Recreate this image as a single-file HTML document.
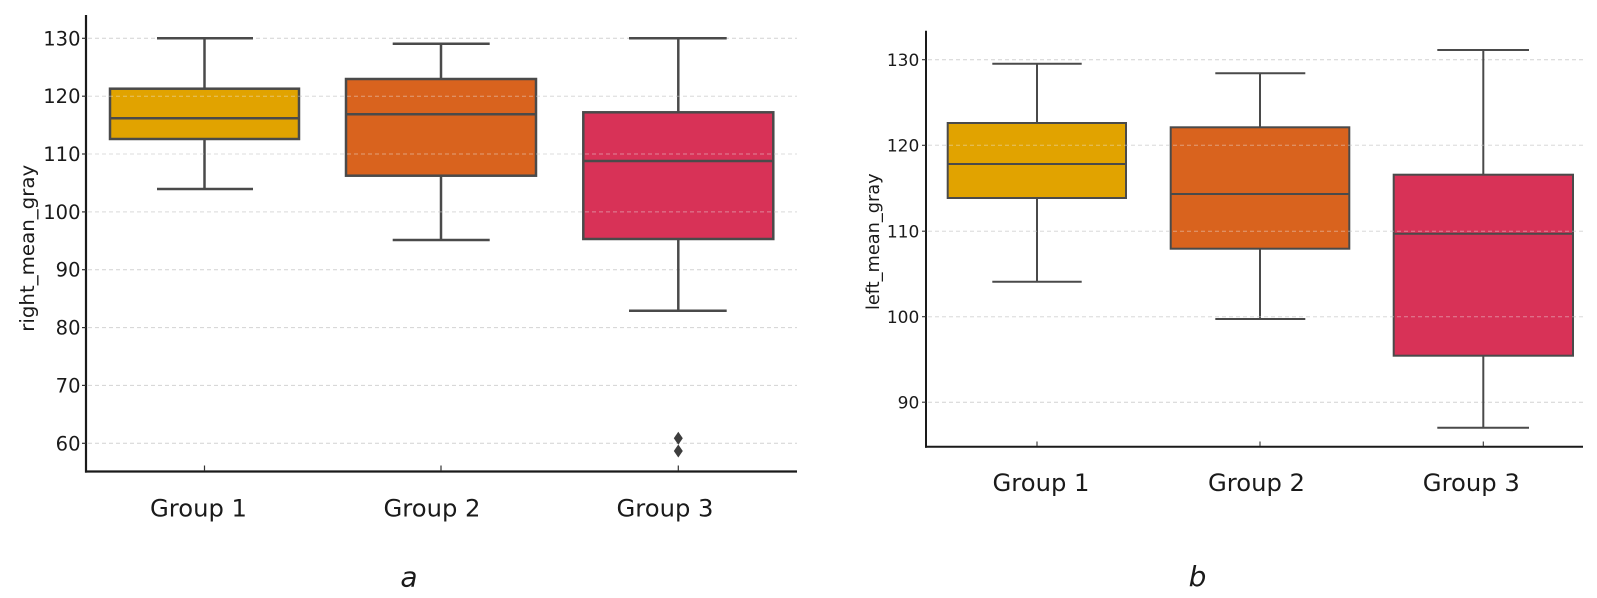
<!DOCTYPE html>
<html>
<head>
<meta charset="utf-8">
<style>
html,body{margin:0;padding:0;background:#fff;}
svg{display:block;}
text{font-family:"DejaVu Sans","Liberation Sans",sans-serif;fill:#1a1a1a;}
</style>
</head>
<body>
<svg width="1597" height="598" viewBox="0 0 1597 598" xmlns="http://www.w3.org/2000/svg">
<rect width="1597" height="598" fill="#fff"/>

<!-- ================= LEFT CHART (a) ================= -->
<g>
  <!-- gridlines under -->
  <g stroke="#d2d2d2" stroke-width="1" stroke-dasharray="4,3">
    <line x1="88" y1="38.3" x2="797" y2="38.3"/>
    <line x1="88" y1="96.2" x2="797" y2="96.2"/>
    <line x1="88" y1="154.0" x2="797" y2="154.0"/>
    <line x1="88" y1="211.9" x2="797" y2="211.9"/>
    <line x1="88" y1="269.7" x2="797" y2="269.7"/>
    <line x1="88" y1="327.6" x2="797" y2="327.6"/>
    <line x1="88" y1="385.4" x2="797" y2="385.4"/>
    <line x1="88" y1="443.3" x2="797" y2="443.3"/>
  </g>

  <!-- Box 1 -->
  <g stroke="#4a4a4a" stroke-width="2.5" fill="none">
    <line x1="204.5" y1="38.3" x2="204.5" y2="88.7"/>
    <line x1="204.5" y1="139" x2="204.5" y2="189"/>
    <line x1="157" y1="38.3" x2="253" y2="38.3"/>
    <line x1="157" y1="189" x2="253" y2="189"/>
  </g>
  <rect x="110" y="88.7" width="189" height="50.3" fill="#E1A300" stroke="#4a4a4a" stroke-width="2.5"/>
  <line x1="110" y1="118.3" x2="299" y2="118.3" stroke="#4a4a4a" stroke-width="2.5"/>

  <!-- Box 2 -->
  <g stroke="#4a4a4a" stroke-width="2.5" fill="none">
    <line x1="441" y1="43.7" x2="441" y2="79"/>
    <line x1="441" y1="175.7" x2="441" y2="240"/>
    <line x1="392.7" y1="43.7" x2="489.7" y2="43.7"/>
    <line x1="392.7" y1="240" x2="489.7" y2="240"/>
  </g>
  <rect x="346" y="79" width="190" height="96.7" fill="#D9631E" stroke="#4a4a4a" stroke-width="2.5"/>
  <line x1="346" y1="114.3" x2="536" y2="114.3" stroke="#4a4a4a" stroke-width="2.5"/>

  <!-- Box 3 -->
  <g stroke="#4a4a4a" stroke-width="2.5" fill="none">
    <line x1="678.3" y1="38.3" x2="678.3" y2="112.3"/>
    <line x1="678.3" y1="239" x2="678.3" y2="310.7"/>
    <line x1="629" y1="38.3" x2="726.7" y2="38.3"/>
    <line x1="629" y1="310.7" x2="726.7" y2="310.7"/>
  </g>
  <rect x="583.3" y="112.3" width="190" height="126.7" fill="#D83257" stroke="#4a4a4a" stroke-width="2.5"/>
  <line x1="583.3" y1="161" x2="773.3" y2="161" stroke="#4a4a4a" stroke-width="2.5"/>

  <!-- outliers -->
  <polygon points="678.3,431.8 682.8,438.3 678.3,444.8 673.8,438.3" fill="#3d3d3d"/>
  <polygon points="678.3,444.5 682.8,451 678.3,457.5 673.8,451" fill="#3d3d3d"/>

  <!-- gridlines over boxes (faint) -->
  <g stroke="#ececec" stroke-opacity="0.45" stroke-width="1" stroke-dasharray="4,3">
    <line x1="88" y1="96.2" x2="797" y2="96.2"/>
    <line x1="88" y1="154.0" x2="797" y2="154.0"/>
    <line x1="88" y1="211.9" x2="797" y2="211.9"/>
  </g>

  <!-- spines -->
  <line x1="86" y1="15" x2="86" y2="472.6" stroke="#1a1a1a" stroke-width="2.2"/>
  <line x1="85" y1="471.5" x2="797" y2="471.5" stroke="#1a1a1a" stroke-width="2.2"/>

  <!-- x ticks (inward) -->
  <g stroke="#333" stroke-width="1.2">
    <line x1="204.5" y1="465.5" x2="204.5" y2="471"/>
    <line x1="441" y1="465.5" x2="441" y2="471"/>
    <line x1="678.3" y1="465.5" x2="678.3" y2="471"/>
  </g>
  <!-- y ticks -->
  <g stroke="#333" stroke-width="1.2">
    <line x1="82" y1="38.3" x2="86" y2="38.3"/>
    <line x1="82" y1="96.2" x2="86" y2="96.2"/>
    <line x1="82" y1="154.0" x2="86" y2="154.0"/>
    <line x1="82" y1="211.9" x2="86" y2="211.9"/>
    <line x1="82" y1="269.7" x2="86" y2="269.7"/>
    <line x1="82" y1="327.6" x2="86" y2="327.6"/>
    <line x1="82" y1="385.4" x2="86" y2="385.4"/>
    <line x1="82" y1="443.3" x2="86" y2="443.3"/>
  </g>

  <!-- y tick labels -->
  <g font-size="19.5" text-anchor="end">
    <text x="80.5" y="45.3">130</text>
    <text x="80.5" y="103.2">120</text>
    <text x="80.5" y="161.0">110</text>
    <text x="80.5" y="218.9">100</text>
    <text x="80.5" y="276.7">90</text>
    <text x="80.5" y="334.6">80</text>
    <text x="80.5" y="392.4">70</text>
    <text x="80.5" y="450.3">60</text>
  </g>

  <!-- x labels -->
  <g font-size="24" text-anchor="middle">
    <text x="198.5" y="516.5" textLength="97" lengthAdjust="spacingAndGlyphs">Group 1</text>
    <text x="432" y="516.5" textLength="97" lengthAdjust="spacingAndGlyphs">Group 2</text>
    <text x="665" y="516.5" textLength="97" lengthAdjust="spacingAndGlyphs">Group 3</text>
  </g>

  <!-- y label -->
  <text x="0" y="0" font-size="19.8" text-anchor="middle" transform="translate(34,248.3) rotate(-90)" textLength="167" lengthAdjust="spacingAndGlyphs">right_mean_gray</text>

  <!-- panel label -->
  <text x="409" y="586.5" font-size="28" font-style="italic" text-anchor="middle">a</text>
</g>

<!-- ================= RIGHT CHART (b) ================= -->
<g>
  <g stroke="#d2d2d2" stroke-width="1" stroke-dasharray="4,3">
    <line x1="928" y1="59.7" x2="1583" y2="59.7"/>
    <line x1="928" y1="145.3" x2="1583" y2="145.3"/>
    <line x1="928" y1="231.2" x2="1583" y2="231.2"/>
    <line x1="928" y1="316.7" x2="1583" y2="316.7"/>
    <line x1="928" y1="402.2" x2="1583" y2="402.2"/>
  </g>

  <!-- Box 1 -->
  <g stroke="#4a4a4a" stroke-width="2" fill="none">
    <line x1="1037" y1="63.7" x2="1037" y2="123"/>
    <line x1="1037" y1="198" x2="1037" y2="281.7"/>
    <line x1="992.3" y1="63.7" x2="1081.7" y2="63.7"/>
    <line x1="992.3" y1="281.7" x2="1081.7" y2="281.7"/>
  </g>
  <rect x="947.7" y="123" width="178.3" height="75" fill="#E1A300" stroke="#4a4a4a" stroke-width="2"/>
  <line x1="947.7" y1="164" x2="1126" y2="164" stroke="#4a4a4a" stroke-width="2"/>

  <!-- Box 2 -->
  <g stroke="#4a4a4a" stroke-width="2" fill="none">
    <line x1="1260" y1="73.3" x2="1260" y2="127.3"/>
    <line x1="1260" y1="248.7" x2="1260" y2="319"/>
    <line x1="1215.3" y1="73.3" x2="1305.3" y2="73.3"/>
    <line x1="1215.3" y1="319" x2="1305.3" y2="319"/>
  </g>
  <rect x="1170.7" y="127.3" width="178.6" height="121.4" fill="#D9631E" stroke="#4a4a4a" stroke-width="2"/>
  <line x1="1170.7" y1="194" x2="1349.3" y2="194" stroke="#4a4a4a" stroke-width="2"/>

  <!-- Box 3 -->
  <g stroke="#4a4a4a" stroke-width="2" fill="none">
    <line x1="1483.3" y1="50" x2="1483.3" y2="174.7"/>
    <line x1="1483.3" y1="355.7" x2="1483.3" y2="427.7"/>
    <line x1="1437.3" y1="50" x2="1529" y2="50"/>
    <line x1="1437.3" y1="427.7" x2="1529" y2="427.7"/>
  </g>
  <rect x="1393.7" y="174.7" width="179.3" height="181" fill="#D83257" stroke="#4a4a4a" stroke-width="2"/>
  <line x1="1393.7" y1="233.7" x2="1573" y2="233.7" stroke="#4a4a4a" stroke-width="2"/>

  <g stroke="#ececec" stroke-opacity="0.45" stroke-width="1" stroke-dasharray="4,3">
    <line x1="928" y1="145.3" x2="1583" y2="145.3"/>
    <line x1="928" y1="231.2" x2="1583" y2="231.2"/>
    <line x1="928" y1="316.7" x2="1583" y2="316.7"/>
  </g>

  <!-- spines -->
  <line x1="926" y1="30.7" x2="926" y2="447.7" stroke="#1a1a1a" stroke-width="2"/>
  <line x1="925" y1="446.7" x2="1583" y2="446.7" stroke="#1a1a1a" stroke-width="2"/>

  <g stroke="#333" stroke-width="1.1">
    <line x1="1037" y1="441.5" x2="1037" y2="446"/>
    <line x1="1260" y1="441.5" x2="1260" y2="446"/>
    <line x1="1483.3" y1="441.5" x2="1483.3" y2="446"/>
  </g>
  <g stroke="#333" stroke-width="1.1">
    <line x1="922" y1="59.7" x2="926" y2="59.7"/>
    <line x1="922" y1="145.3" x2="926" y2="145.3"/>
    <line x1="922" y1="231.2" x2="926" y2="231.2"/>
    <line x1="922" y1="316.7" x2="926" y2="316.7"/>
    <line x1="922" y1="402.2" x2="926" y2="402.2"/>
  </g>

  <g font-size="17" text-anchor="end">
    <text x="919.3" y="65.9">130</text>
    <text x="919.3" y="151.5">120</text>
    <text x="919.3" y="237.4">110</text>
    <text x="919.3" y="322.9">100</text>
    <text x="919.3" y="408.4">90</text>
  </g>

  <g font-size="24" text-anchor="middle">
    <text x="1041" y="491" textLength="97" lengthAdjust="spacingAndGlyphs">Group 1</text>
    <text x="1256.5" y="491" textLength="97" lengthAdjust="spacingAndGlyphs">Group 2</text>
    <text x="1471.3" y="491" textLength="97" lengthAdjust="spacingAndGlyphs">Group 3</text>
  </g>

  <text x="0" y="0" font-size="17.7" text-anchor="middle" transform="translate(879,241.7) rotate(-90)" textLength="136.7" lengthAdjust="spacingAndGlyphs">left_mean_gray</text>

  <text x="1197.5" y="586" font-size="28" font-style="italic" text-anchor="middle">b</text>
</g>
</svg>
</body>
</html>
